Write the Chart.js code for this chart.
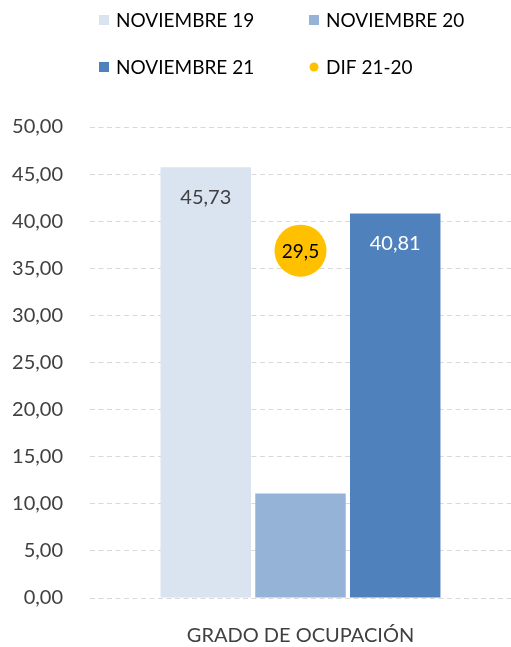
<!DOCTYPE html>
<html>
<head>
    <meta charset="utf-8">
    <title>Grado de ocupación</title>
    <script src="https://cdn.jsdelivr.net/npm/chart.js"></script>
    <style>
        body {
            margin: 0;
            padding: 0;
            background-color: #fff;
        }
        #wrap {
            width: 511px;
            height: 647px;
        }
    </style>
</head>
<body>

<div id="wrap">
    <canvas id="ocupacionChart" width="511" height="647"></canvas>
</div>

<script>
    // datos
    const categories = ['GRADO DE OCUPACIÓN'];
    const nov19 = [45.73];
    const nov20 = [11.1];
    const nov21 = [40.81];
    const dif2120 = [29.5];
    const seriesNames = ['NOVIEMBRE 19', 'NOVIEMBRE 20', 'NOVIEMBRE 21', 'DIF 21-20'];
    const yMin = 0, yMax = 50, yStep = 5;

    const fontName = 'Lato, "Noto Sans", sans-serif';
    const coma = (v, d) => v.toFixed(d).replace('.', ',');

    // leyenda 2x2 dibujada en el canvas
    const legendGrid = {
        id: 'legendGrid',
        afterDraw(chart) {
            const ctx = chart.ctx;
            const cols = [99, 309];
            const rows = [20, 67];
            ctx.save();
            ctx.font = '19px ' + fontName;
            ctx.textBaseline = 'middle';
            chart.data.datasets.forEach((ds, i) => {
                const x = cols[i % 2];
                const y = rows[Math.floor(i / 2)];
                ctx.fillStyle = ds.backgroundColor;
                if (ds.type === 'line') {
                    ctx.beginPath();
                    ctx.arc(x + 5, y, 4.5, 0, Math.PI * 2);
                    ctx.fill();
                } else {
                    ctx.fillRect(x, y - 5, 10, 10);
                }
                ctx.fillStyle = '#000';
                ctx.fillText(ds.label, x + 17, y + 1);
            });
            ctx.restore();
        }
    };

    // etiquetas de valores
    const valueLabels = {
        id: 'valueLabels',
        afterDatasetsDraw(chart) {
            const ctx = chart.ctx;
            ctx.save();
            ctx.textAlign = 'center';
            ctx.textBaseline = 'middle';
            chart.data.datasets.forEach((ds, i) => {
                if (!ds.showValue) return;
                const meta = chart.getDatasetMeta(i);
                meta.data.forEach((el, j) => {
                    const v = ds.data[j];
                    ctx.fillStyle = ds.valueColor;
                    if (ds.type === 'line') {
                        ctx.font = '19px ' + fontName;
                        ctx.fillText(coma(v, 1), el.x, el.y + 1);
                    } else {
                        ctx.font = '20px ' + fontName;
                        ctx.fillText(coma(v, 2), el.x, el.y + 30);
                    }
                });
            });
            ctx.restore();
        }
    };

    const ctx = document.getElementById('ocupacionChart').getContext('2d');
    const chart = new Chart(ctx, {
        type: 'bar',
        data: {
            labels: categories,
            datasets: [{
                label: seriesNames[0],
                data: nov19,
                backgroundColor: '#DAE3F0',
                showValue: true,
                valueColor: '#404040',
                yAxisID: 'y'
            }, {
                label: seriesNames[1],
                data: nov20,
                backgroundColor: '#95B3D7',
                showValue: false,
                yAxisID: 'y'
            }, {
                label: seriesNames[2],
                data: nov21,
                backgroundColor: '#4F81BD',
                showValue: true,
                valueColor: '#ffffff',
                yAxisID: 'y'
            }, {
                type: 'line',
                label: seriesNames[3],
                data: dif2120,
                backgroundColor: '#FFC000',
                borderColor: '#FFC000',
                showLine: false,
                pointRadius: 26,
                pointHoverRadius: 26,
                borderWidth: 0,
                showValue: true,
                valueColor: '#000000',
                yAxisID: 'y2'
            }]
        },
        options: {
            responsive: false,
            animation: false,
            categoryPercentage: 0.675,
            barPercentage: 0.955,
            layout: {
                autoPadding: false,
                padding: { top: 127, right: -8, left: 0, bottom: 0 }
            },
            plugins: {
                legend: { display: false },
                tooltip: { enabled: false }
            },
            scales: {
                x: {
                    grid: { display: false },
                    border: { display: false },
                    ticks: {
                        color: '#404040',
                        font: { family: fontName, size: 20 },
                        padding: 18
                    },
                    afterFit(scale) {
                        scale.height = 49;
                        scale.paddingLeft = 0;
                        scale.paddingRight = 0;
                    }
                },
                y: {
                    min: yMin,
                    max: yMax,
                    border: { display: false, dash: [5, 3.5] },
                    grid: {
                        color: '#D9D9D9',
                        drawTicks: false
                    },
                    ticks: {
                        stepSize: yStep,
                        color: '#404040',
                        padding: 27,
                        font: { family: fontName, size: 20 },
                        callback: v => coma(v, 2)
                    },
                    afterFit(scale) { scale.width = 90; }
                },
                y2: {
                    display: false,
                    min: 0,
                    max: 40
                }
            }
        },
        plugins: [legendGrid, valueLabels]
    });
</script>

</body>
</html>
